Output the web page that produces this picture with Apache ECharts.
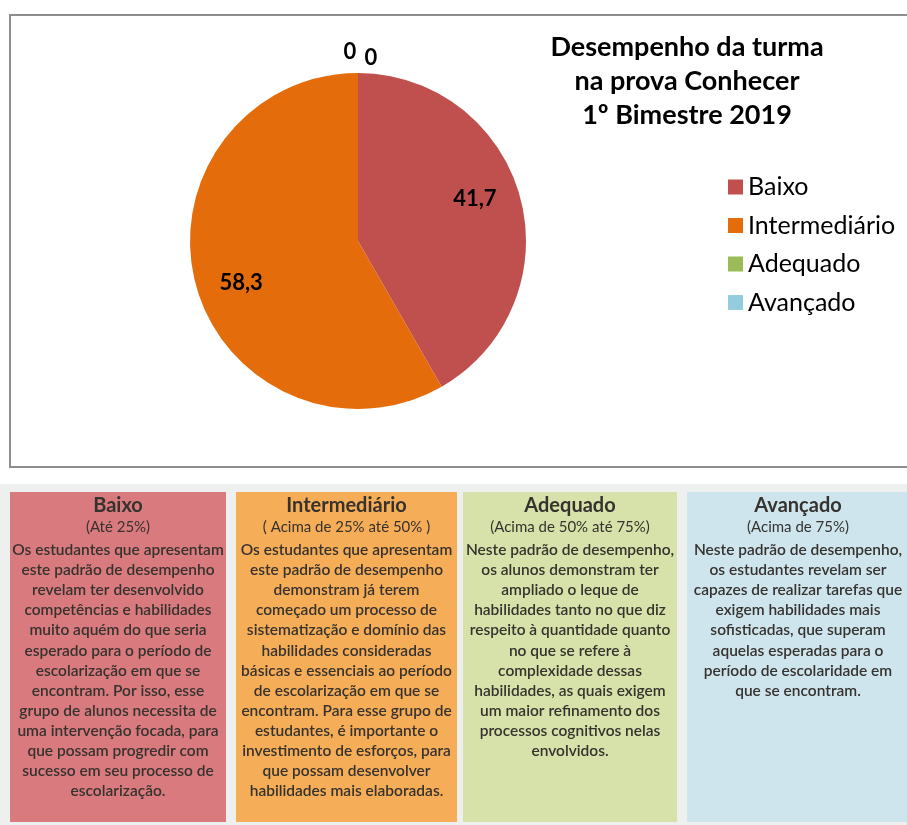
<!DOCTYPE html>
<html>
<head>
<meta charset="utf-8">
<script src="https://cdn.jsdelivr.net/npm/echarts@6/dist/echarts.min.js"></script>
<style>
  html, body { margin: 0; padding: 0; background: #fff; }
  #chart { width: 907px; height: 825px; }
</style>
</head>
<body>
<div id="chart"></div>
<script>
// pie data
const categories = ['Baixo', 'Intermediário', 'Adequado', 'Avançado']
const values = [41.7, 58.3, 0, 0]
const colors = ['#C0504D', '#E46C0A', '#9BBB59', '#93CDDD']

const chartTitle = 'Desempenho da turma\nna prova Conhecer\n1º Bimestre 2019'

// descriptive boxes under the chart
const boxTitles = ['Baixo', 'Intermediário', 'Adequado', 'Avançado']
const boxRanges = ['(Até 25%)', '( Acima de 25% até 50% )', '(Acima de 50% até 75%)', '(Acima de 75%)']
const boxTexts = [
  [
    'Os estudantes que apresentam',
    'este padrão de desempenho',
    'revelam ter desenvolvido',
    'competências e habilidades',
    'muito aquém do que seria',
    'esperado para o período de',
    'escolarização em que se',
    'encontram. Por isso, esse',
    'grupo de alunos necessita de',
    'uma intervenção focada, para',
    'que possam progredir com',
    'sucesso em seu processo de',
    'escolarização.'
  ],
  [
    'Os estudantes que apresentam',
    'este padrão de desempenho',
    'demonstram já terem',
    'começado um processo de',
    'sistematização e domínio das',
    'habilidades consideradas',
    'básicas e essenciais ao período',
    'de escolarização em que se',
    'encontram. Para esse grupo de',
    'estudantes, é importante o',
    'investimento de esforços, para',
    'que possam desenvolver',
    'habilidades mais elaboradas.'
  ],
  [
    'Neste padrão de desempenho,',
    'os alunos demonstram ter',
    'ampliado o leque de',
    'habilidades tanto no que diz',
    'respeito à quantidade quanto',
    'no que se refere à',
    'complexidade dessas',
    'habilidades, as quais exigem',
    'um maior refinamento dos',
    'processos cognitivos nelas',
    'envolvidos.'
  ],
  [
    'Neste padrão de desempenho,',
    'os estudantes revelam ser',
    'capazes de realizar tarefas que',
    'exigem habilidades mais',
    'sofisticadas, que superam',
    'aquelas esperadas para o',
    'período de escolaridade em',
    'que se encontram.'
  ]
]
const boxColors = ['#D97A7F', '#F6AD58', '#D6E2A9', '#CFE5EE']

const chart = echarts.init(document.getElementById('chart'))

const cx = 358, cy = 241, R = 168
const total = values.reduce((a, b) => a + b, 0)

// label spot for every slice (angles clockwise from the top, like Excel)
function labelPos(i) {
  if (values[i] === 0) {
    return i === 2 ? [cx - 8, cy - R - 21] : [cx + 13, cy - R - 15]
  }
  let before = 0
  for (let k = 0; k < i; k++) before += values[k]
  const mid = (before + values[i] / 2) / total * Math.PI * 2 - 5 * Math.PI / 180
  return [cx + 0.74 * R * Math.sin(mid), cy - 0.74 * R * Math.cos(mid)]
}

const boxX = [10, 236, 463, 687]
const boxW = [216, 221, 214, 222]
const txt = '#36322e'
const graphics = [
  { type: 'rect', shape: { x: 10, y: 15, width: 905, height: 452 },
    style: { fill: 'none', stroke: '#8e8e8e', lineWidth: 2 }, silent: true },
  { type: 'rect', shape: { x: 0, y: 484, width: 907, height: 341 },
    style: { fill: '#eef0ef' }, silent: true }
]
boxTitles.forEach((t, i) => {
  const mx = boxX[i] + boxW[i] / 2
  graphics.push({ type: 'rect', shape: { x: boxX[i], y: 492, width: boxW[i], height: 330 },
    style: { fill: boxColors[i] }, silent: true })
  graphics.push({ type: 'text', x: mx, y: 496,
    style: { text: t, align: 'center', verticalAlign: 'top', fill: txt,
      font: 'bold 20px Lato, "Open Sans", sans-serif' } })
  graphics.push({ type: 'text', x: mx, y: 520,
    style: { text: boxRanges[i], align: 'center', verticalAlign: 'top', fill: txt,
      font: '15px Lato, "Open Sans", sans-serif' } })
  graphics.push({ type: 'text', x: mx, y: 540,
    style: { text: boxTexts[i].join('\n'), align: 'center', verticalAlign: 'top', fill: txt,
      lineHeight: 20.1, font: '600 15.5px Lato, "Open Sans", sans-serif' } })
})

chart.setOption({
  animation: false,
  title: {
    text: chartTitle,
    left: 682,
    top: 25,
    textAlign: 'center',
    textStyle: { fontFamily: 'Lato', fontWeight: 'bold', fontSize: 27, lineHeight: 34, color: '#000' }
  },
  legend: {
    orient: 'vertical',
    left: 728,
    top: 174,
    padding: 0,
    icon: 'rect',
    itemWidth: 15,
    itemHeight: 15,
    itemGap: 12.5,
    selectedMode: false,
    data: categories,
    textStyle: { fontFamily: 'Lato', fontSize: 25, lineHeight: 26, color: '#000' }
  },
  graphic: graphics,
  series: [
    {
      type: 'pie',
      center: [cx, cy],
      radius: R,
      startAngle: 90,
      clockwise: true,
      selectedMode: false,
      avoidLabelOverlap: false,
      emphasis: { disabled: true },
      data: categories.map((name, i) => ({ name, value: values[i], itemStyle: { color: colors[i] } })),
      label: {
        show: true,
        position: 'inside',
        formatter: p => String(p.value).replace('.', ','),
        fontFamily: 'Lato',
        fontWeight: 'bold',
        fontSize: 22,
        color: '#000'
      },
      labelLine: { show: false },
      labelLayout: p => {
        const pos = labelPos(p.dataIndex)
        return { x: pos[0], y: pos[1], align: 'center', verticalAlign: 'middle' }
      }
    }
  ]
})
</script>
</body>
</html>
